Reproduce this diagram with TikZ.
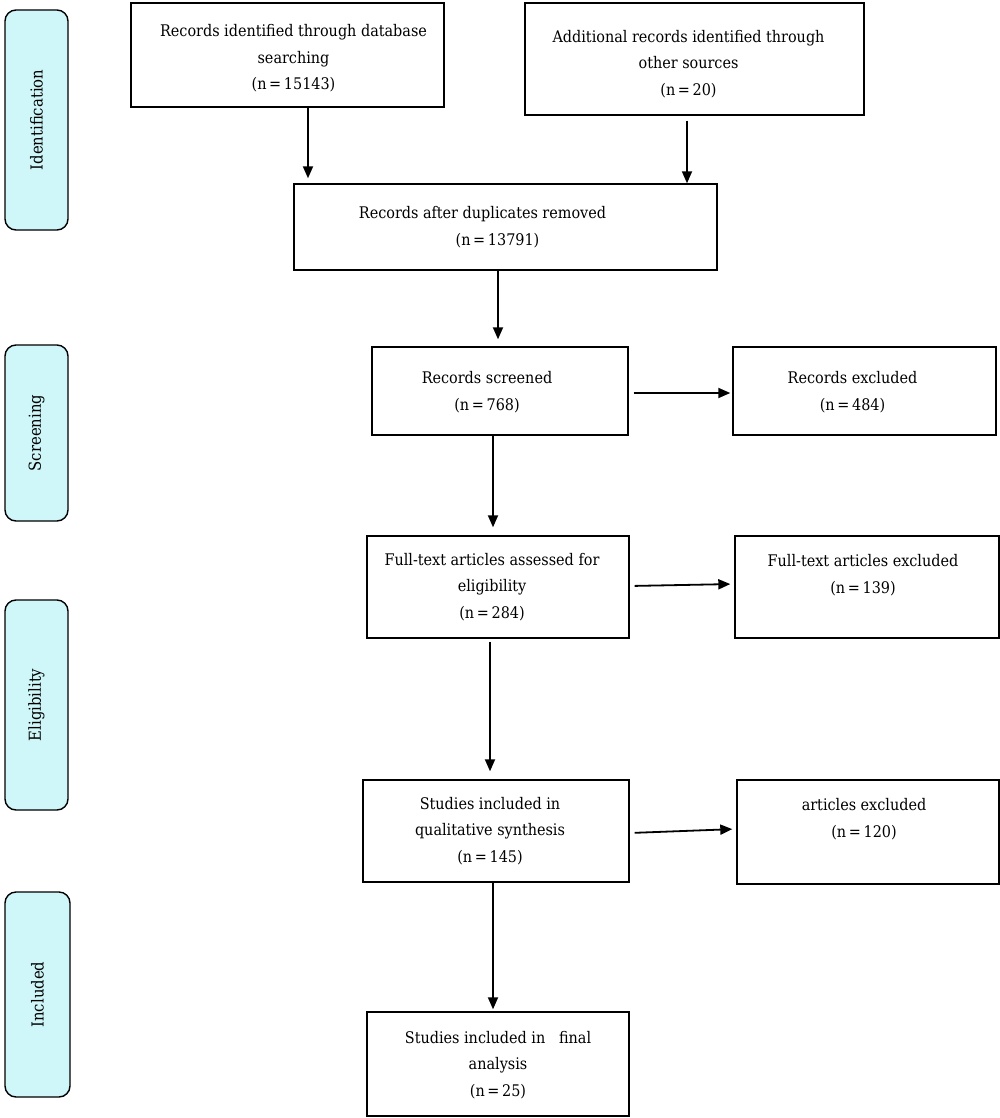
\documentclass[tikz,border=0pt]{standalone}
\usepackage{fontspec}
\setmainfont{DejaVu Serif Condensed}
\usetikzlibrary{arrows.meta,calc}
\definecolor{sidefill}{HTML}{CFF6F8}
\begin{document}
\begin{tikzpicture}[x=1pt,y=-1pt,
  box/.style={draw=black,line width=1.4pt,minimum width=#1,inner sep=0pt},
  side/.style={draw=black,line width=1.4pt,fill=sidefill,rounded corners=11pt,inner sep=0pt},
  txt/.style={align=center,font=\fontsize{16}{26.5}\selectfont,inner sep=0pt},
  sidetxt/.style={rotate=90,font=\fontsize{16.5}{18}\selectfont,inner sep=0pt},
  arr/.style={line width=1.8pt,-{Triangle[length=12pt,width=10pt]}}]
\useasboundingbox (0,0) rectangle (1000,1118);
% side labels
\node[side,minimum width=63pt,minimum height=220pt] (s1) at (36.5,120) {};
\node[sidetxt] (s1t) at (s1.center) {Identification};
\node[side,minimum width=63pt,minimum height=176pt] (s2) at (36.5,433) {};
\node[sidetxt] (s2t) at (s2.center) {Screening};
\node[side,minimum width=63pt,minimum height=210pt] (s3) at (36.5,705) {};
\node[sidetxt] (s3t) at (s3.center) {Eligibility};
\node[side,minimum width=65pt,minimum height=205pt] (s4) at (37.5,994.5) {};
\node[sidetxt] (s4t) at (s4.center) {Included};
% boxes
\node[box=313pt,minimum height=104pt] (A) at (287.5,55) {};
\node[txt] (At) at ($(A.center)+(6,3.5)$) {Records identified through database\\searching\\(n\,=\,15143)};
\node[box=339pt,minimum height=112pt] (B) at (694.5,59) {};
\node[txt] (Bt) at ($(B.center)+(-6,5)$) {Additional records identified through\\other sources\\(n\,=\,20)};
\node[box=423pt,minimum height=86pt] (C) at (505.5,227) {};
\node[txt] (Ct) at ($(C.center)+(-23,0)$) {Records after duplicates removed\\\hspace*{30pt}(n\,=\,13791)};
\node[box=256pt,minimum height=88pt] (D) at (500,391) {};
\node[txt] (Dt) at ($(D.center)+(-13,1)$) {Records screened\\(n\,=\,768)};
\node[box=263pt,minimum height=88pt] (E) at (864.5,391) {};
\node[txt] (Et) at ($(E.center)+(-12,1)$) {Records excluded\\(n\,=\,484)};
\node[box=262pt,minimum height=102pt] (F) at (498,587) {};
\node[txt] (Ft) at ($(F.center)+(-6,0)$) {Full-text articles assessed for\\eligibility\\(n\,=\,284)};
\node[box=264pt,minimum height=102pt] (G) at (867,587) {};
\node[txt] (Gt) at ($(G.center)+(-4,-12)$) {Full-text articles excluded\\(n\,=\,139)};
\node[box=266pt,minimum height=102pt] (H) at (496,831) {};
\node[txt] (Ht) at ($(H.center)+(-6,0)$) {Studies included in\\qualitative synthesis\\(n\,=\,145)};
\node[box=262pt,minimum height=104pt] (I) at (868,832) {};
\node[txt] (It) at ($(I.center)+(-4,-13)$) {articles excluded\\(n\,=\,120)};
\node[box=262pt,minimum height=104pt] (J) at (498,1064) {};
\node[txt] (Jt) at ($(J.center)+(0,1)$) {Studies included in\ \ \ final\\analysis\\(n\,=\,25)};
% arrows
\draw[arr,shorten >=5pt] ([xshift=20.5pt]A.south) -- ([xshift=-197.5pt]C.north);
\draw[arr,shorten <=5pt] ([xshift=-7.5pt]B.south) -- ([xshift=181.5pt]C.north);
\draw[arr,shorten >=7pt] ([xshift=-7.5pt]C.south) -- ([xshift=-2pt]D.north);
\draw[arr,shorten <=5pt,shorten >=2pt] ([yshift=-2pt]D.east) -- ([yshift=-2pt]E.west);
\draw[arr,shorten >=8pt] ([xshift=-7pt]D.south) -- ([xshift=-5pt]F.north);
\draw[arr,shorten <=5pt,shorten >=4pt] ([yshift=1pt]F.east) -- ([yshift=3pt]G.west);
\draw[arr,shorten <=3pt,shorten >=8pt] ([xshift=-8pt]F.south) -- ([xshift=-6pt]H.north);
\draw[arr,shorten <=5pt,shorten >=4pt] ([yshift=-2pt]H.east) -- ([yshift=3pt]I.west);
\draw[arr,shorten >=2pt] ([xshift=-3pt]H.south) -- ([xshift=-5pt]J.north);
\end{tikzpicture}
\end{document}
